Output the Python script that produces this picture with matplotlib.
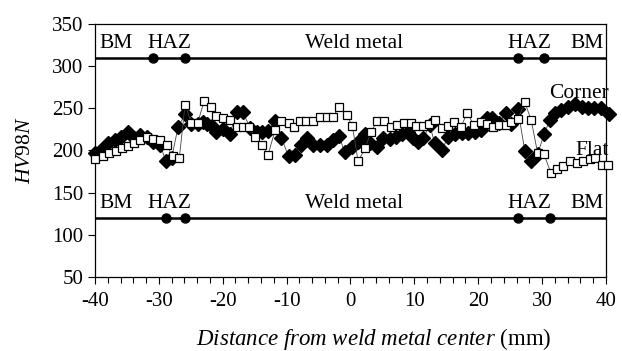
import matplotlib
matplotlib.use('Agg')
import matplotlib.pyplot as plt
from matplotlib.ticker import MultipleLocator

plt.rcParams['font.family'] = ['Liberation Serif', 'DejaVu Serif']
plt.rcParams['mathtext.fontset'] = 'custom'
plt.rcParams['mathtext.rm'] = 'Liberation Serif'
plt.rcParams['mathtext.it'] = 'Liberation Serif:italic'

# Corner specimen (filled diamonds)
corner_x = [-40.0, -39.0, -37.9, -36.9, -35.9, -34.8, -33.9, -32.9, -31.9, -30.9,
            -29.8, -28.9, -28.0, -27.0, -25.9, -24.9, -23.8, -23.1, -22.4, -21.7,
            -21.0, -19.9, -18.9, -17.8, -16.9, -15.7, -14.7, -13.9, -12.9, -11.8,
            -10.8, -9.7, -8.7, -7.8, -6.8, -5.8, -4.8, -3.7, -2.7, -1.8,
            -0.9, 0.2, 1.2, 2.3, 3.0, 4.1, 5.1, 6.2, 7.2, 8.1,
            9.0, 9.8, 10.6, 11.4, 12.4, 13.2, 14.3, 15.3, 16.3, 17.4,
            18.4, 19.5, 20.4, 21.3, 22.2, 23.2, 24.3, 25.2, 26.2, 27.3,
            28.3, 29.3, 30.3, 31.2, 32.1, 33.0, 34.1, 35.1, 36.2, 37.2,
            38.2, 39.3, 40.4]
corner_hv = [197, 200.5, 208.5, 212, 216, 222, 214.5, 218.5, 216, 210,
             207, 187, 191, 227.5, 243, 231, 231, 234, 231, 229.4,
             221.5, 226, 219, 246, 246, 227, 222.3, 221.5, 223, 235,
             214.4, 193.5, 194.6, 206.5, 215.2, 206.5, 206.5, 206.5, 212.4, 217.2,
             198, 204.5, 210.4, 219.2, 208.5, 204.5, 215.2, 213.6, 216.4, 219.2,
             221.6, 214.4, 210.4, 214.4, 230.2, 208.5, 200.5, 216.4, 219.2, 220.4,
             220.4, 221.6, 224.3, 238.9, 238.9, 232.3, 244.1, 231, 249.2, 199.4,
             187.5, 195.4, 219.2, 236, 244.1, 248.1, 252, 254.8, 252, 250,
             250.5, 250, 243]

# Flat specimen (open squares)
flat_x = [-40.0, -38.8, -37.8, -36.7, -35.7, -34.9, -33.9, -32.9, -31.9, -30.9,
          -29.8, -28.8, -27.8, -26.8, -25.9, -24.9, -23.9, -22.9, -21.9, -21.0,
          -19.9, -18.9, -17.8, -16.9, -15.9, -14.9, -13.9, -12.9, -11.8, -10.8,
          -9.7, -8.9, -7.9, -7.0, -5.9, -4.8, -3.7, -2.7, -1.8, -0.6,
          0.3, 1.2, 2.3, 3.2, 4.2, 5.2, 6.3, 7.3, 8.4, 9.4,
          10.2, 11.3, 12.3, 13.2, 14.3, 15.2, 16.2, 17.3, 18.3, 19.3,
          20.4, 21.3, 22.3, 23.2, 24.3, 25.2, 26.2, 27.3, 28.3, 29.3,
          30.3, 31.4, 32.3, 33.3, 34.3, 35.4, 36.4, 37.5, 38.3, 39.4,
          40.3]
flat_hv = [190, 193, 197, 199, 202.5, 205.6, 209, 213, 216, 214,
           212, 206, 193, 191, 254, 233, 233, 259, 252, 241,
           238, 236, 228, 228, 228, 216, 207, 195, 224, 235,
           232, 228, 235, 235, 235, 240, 240, 240, 252, 242,
           229, 187, 202.5, 222, 235, 235, 228, 230, 232, 232,
           229, 229, 231, 236, 227, 229, 234, 228, 245, 230,
           233.5, 231, 228, 230, 230, 234, 237, 257, 236, 197,
           195.5, 173, 178, 181.5, 187, 185, 187, 189.5, 191.5, 183,
           183]

# zone boundaries for the two specimens
zone_labels = ['BM', 'HAZ', 'Weld metal', 'HAZ', 'BM']
zone_label_x = [-36.7, -28.3, 0.5, 28.0, 37.0]
corner_bounds = [-30.9, -25.9, 26.3, 30.3]
flat_bounds = [-28.9, -25.9, 26.3, 31.3]
corner_level = 310
flat_level = 120

fig = plt.figure(figsize=(6.22, 3.51), dpi=100)
ax = fig.add_axes([0.1527, 0.211, 0.8215, 0.7206])

ax.plot(corner_x, corner_hv, color='#444444', lw=0.6, marker='D', ms=7,
        mfc='black', mec='black', clip_on=False, zorder=3)
ax.plot(flat_x, flat_hv, color='#444444', lw=0.6, marker='s', ms=5.5,
        mfc='white', mec='black', mew=0.9, clip_on=False, zorder=4)

for level, bounds in [(corner_level, corner_bounds), (flat_level, flat_bounds)]:
    ax.plot([-40, 40], [level, level], color='black', lw=1.8, zorder=2)
    ax.plot(bounds, [level] * len(bounds), 'o', color='black', ms=6.5,
            clip_on=False, zorder=3)
    for lab, lx in zip(zone_labels, zone_label_x):
        ax.text(lx, level + 6, lab, ha='center', va='bottom', fontsize=15.5)

ax.text(40.4, 256, 'Corner', ha='right', va='bottom', fontsize=15.5)
ax.text(40.4, 189, 'Flat', ha='right', va='bottom', fontsize=15.5)

ax.set_xlim(-40, 40)
ax.set_ylim(50, 350)
ax.xaxis.set_major_locator(MultipleLocator(10))
ax.xaxis.set_minor_locator(MultipleLocator(2))
ax.yaxis.set_major_locator(MultipleLocator(50))
ax.tick_params(axis='both', which='major', direction='out', length=5,
               width=0.8, labelsize=15)
ax.tick_params(axis='x', which='major', pad=6)
ax.tick_params(axis='x', which='minor', direction='out', length=4, width=0.8)
ax.set_xticklabels([str(int(v)) for v in ax.get_xticks()])
for s in ax.spines.values():
    s.set_linewidth(0.9)

ax.set_xlabel(r'$\mathit{Distance\ from\ weld\ metal\ center}$ (mm)',
              fontsize=16.5, labelpad=11)
ax.xaxis.label.set_x(0.545)
ax.set_ylabel(r'$\mathit{HV98N}$', fontsize=15.5, labelpad=12)

fig.savefig('out.png', dpi=100)
